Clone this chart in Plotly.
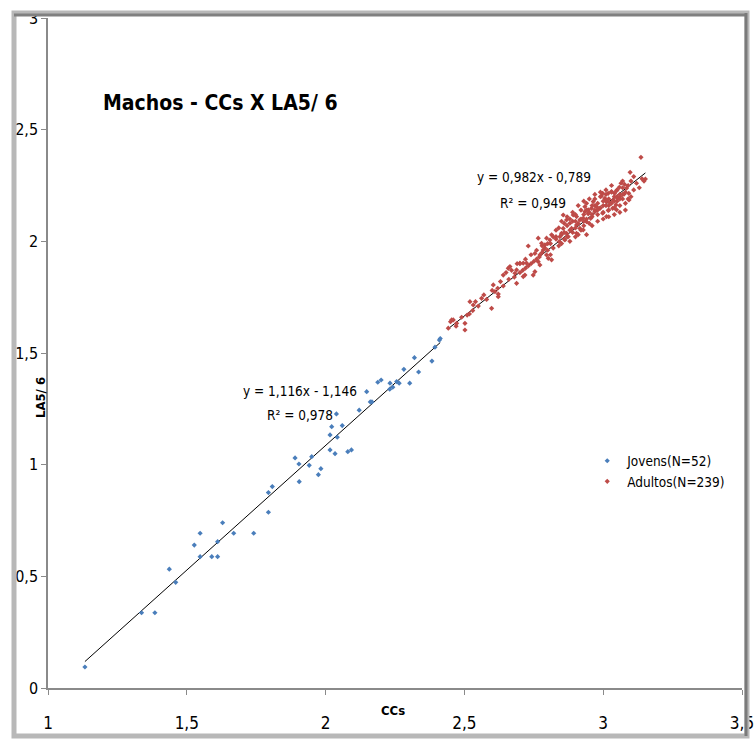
import plotly.graph_objects as go

# ---------------- data ----------------
jovens_x = [1.133, 1.337, 1.385, 1.437, 1.460, 1.527, 1.548, 1.548, 1.590, 1.611,
            1.611, 1.629, 1.669, 1.741, 1.794, 1.794, 1.808, 1.905, 1.890, 1.904,
            1.941, 1.950, 1.974, 1.983, 2.016, 2.016, 2.022, 2.034, 2.039, 2.042,
            2.060, 2.093, 2.121, 2.148, 2.161, 2.167, 2.188, 2.200, 2.231, 2.232,
            2.242, 2.256, 2.265, 2.282, 2.303, 2.320, 2.335, 2.383, 2.394, 2.410,
            2.413, 2.080]
jovens_y = [0.094, 0.337, 0.337, 0.532, 0.473, 0.640, 0.693, 0.588, 0.588, 0.588,
            0.655, 0.740, 0.693, 0.693, 0.787, 0.875, 0.902, 0.924, 1.030, 1.003,
            0.997, 1.036, 0.955, 0.982, 1.066, 1.133, 1.170, 1.049, 1.227, 1.123,
            1.175, 1.066, 1.244, 1.327, 1.281, 1.281, 1.369, 1.379, 1.338, 1.365,
            1.347, 1.372, 1.365, 1.427, 1.365, 1.479, 1.415, 1.464, 1.526, 1.558,
            1.565, 1.058]

adultos_x = [
    3.136, 3.097, 3.152, 3.147, 3.070, 3.064, 3.077, 3.058, 3.084, 3.092,
    3.075, 3.093, 3.048, 3.041, 3.030, 3.018, 2.998, 2.994, 3.006, 3.012,
    3.024, 3.036, 3.051, 3.060, 3.046, 3.048, 3.034, 3.018, 3.012, 2.998,
    2.988, 2.976, 2.964, 2.970, 2.958, 2.946, 2.934, 2.934, 2.946, 2.955,
    2.940, 2.928, 2.916, 2.904, 2.892, 2.904, 2.916, 2.928, 2.904, 2.886,
    2.880, 2.868, 2.856, 2.856, 2.868, 2.874, 2.862, 2.850, 2.844, 2.842,
    2.830, 2.814, 2.808, 2.796, 2.790, 2.778, 2.766, 2.730, 2.784, 2.796,
    2.814, 2.802, 2.772, 2.754, 2.766, 2.772, 2.754, 2.748, 2.724, 2.712,
    2.700, 2.688, 2.664, 2.658, 2.682, 2.718, 2.712, 2.688, 2.640, 2.604,
    2.610, 2.622, 2.622, 2.598, 2.562, 2.532, 2.520, 2.518, 2.502, 2.502,
    2.472, 2.454, 2.460, 2.442, 2.450,
    2.86, 2.87, 2.88, 2.89, 2.90, 2.90, 2.91, 2.91, 2.92, 2.92,
    2.93, 2.93, 2.94, 2.94, 2.95, 2.95, 2.96, 2.96, 2.97, 2.97,
    2.98, 2.98, 2.99, 2.99, 3.00, 3.00, 3.01, 3.01, 3.02, 3.02,
    3.03, 3.03, 3.04, 3.04, 3.05, 3.05, 3.06, 3.06, 3.07, 3.07,
    3.08, 3.08, 3.09, 3.10, 3.10, 3.11, 3.12, 3.13, 3.11, 3.14,
    2.80, 2.81, 2.82, 2.83, 2.84, 2.85, 2.85, 2.86, 2.87, 2.88,
    2.89, 2.83, 2.81, 2.79, 2.78, 2.77, 2.76, 2.75, 2.74, 2.73,
    2.72, 2.71, 2.70, 2.69, 2.68, 2.67, 2.66, 2.65, 2.64, 2.63,
    2.62, 2.60, 2.58, 2.57, 2.55, 2.54, 2.53, 2.51, 2.49, 2.47,
    2.90, 2.92, 2.94, 2.96, 2.98, 3.00, 3.02, 3.04, 3.06, 3.08,
    3.03, 3.01, 2.99, 2.97, 2.95, 2.93, 2.91, 2.89, 2.87, 2.85,
    2.88, 2.90, 2.94, 2.96, 2.98, 3.00, 3.02, 3.05, 3.07, 3.09,
    2.84, 2.82, 2.80, 2.78, 2.76, 2.74, 2.72, 2.70,
    2.86, 2.93, 2.97, 3.01, 3.04, 3.06]
adultos_y = [
    2.376, 2.309, 2.279, 2.270, 2.270, 2.260, 2.255, 2.242, 2.238, 2.215,
    2.211, 2.185, 2.227, 2.215, 2.223, 2.215, 2.215, 2.203, 2.193, 2.178,
    2.173, 2.185, 2.193, 2.200, 2.163, 2.141, 2.148, 2.138, 2.111, 2.126,
    2.148, 2.155, 2.178, 2.133, 2.148, 2.141, 2.155, 2.133, 2.123, 2.103,
    2.088, 2.103, 2.096, 2.111, 2.118, 2.073, 2.058, 2.051, 2.036, 2.058,
    2.081, 2.096, 2.118, 2.058, 2.036, 2.021, 2.006, 2.036, 2.021, 1.999,
    2.021, 2.029, 2.006, 2.014, 1.984, 1.991, 2.014, 1.979, 1.961, 1.939,
    1.917, 1.924, 1.939, 1.946, 1.909, 1.894, 1.864, 1.849, 1.902, 1.902,
    1.902, 1.872, 1.887, 1.879, 1.857, 1.849, 1.842, 1.812, 1.849, 1.805,
    1.775, 1.764, 1.752, 1.700, 1.745, 1.715, 1.730, 1.675, 1.633, 1.603,
    1.633, 1.648, 1.648, 1.611, 1.640,
    2.04, 2.07, 2.05, 2.09, 2.06, 2.12, 2.08, 2.03, 2.10, 2.14,
    2.07, 2.12, 2.10, 2.17, 2.13, 2.08, 2.11, 2.16, 2.14, 2.19,
    2.12, 2.17, 2.15, 2.20, 2.13, 2.18, 2.16, 2.21, 2.19, 2.14,
    2.17, 2.22, 2.20, 2.15, 2.18, 2.23, 2.21, 2.16, 2.19, 2.24,
    2.22, 2.17, 2.25, 2.20, 2.27, 2.23, 2.26, 2.24, 2.29, 2.28,
    1.96, 1.99, 1.97, 2.01, 1.98, 2.03, 1.99, 2.08, 2.02, 2.00,
    2.04, 2.05, 1.94, 1.97, 1.95, 1.93, 1.96, 1.91, 1.94, 1.89,
    1.92, 1.87, 1.86, 1.90, 1.84, 1.87, 1.83, 1.86, 1.80, 1.82,
    1.79, 1.78, 1.74, 1.76, 1.71, 1.73, 1.69, 1.67, 1.66, 1.62,
    2.02, 2.05, 2.03, 2.07, 2.09, 2.10, 2.11, 2.12, 2.13, 2.14,
    2.25, 2.23, 2.22, 2.21, 2.19, 2.18, 2.16, 2.13, 2.11, 2.09,
    2.10, 2.09, 2.14, 2.12, 2.14, 2.16, 2.16, 2.20, 2.21, 2.19,
    2.06, 2.02, 1.99, 1.98, 1.92, 1.90, 1.88, 1.90,
    2.01, 2.09, 2.16, 2.18, 2.18, 2.19]

jovens_fit = (1.116, -1.146, 0.978)
adultos_fit = (0.982, -0.789, 0.949)

x_ticks = [1, 1.5, 2, 2.5, 3, 3.5]
y_ticks = [0, 0.5, 1, 1.5, 2, 2.5, 3]

# ---------------- figure ----------------
FONT = "DejaVu Sans Condensed, Liberation Sans Narrow, Arial Narrow, Liberation Sans, sans-serif"
BLUE = "#4A7EBB"
RED = "#BE4B48"

fig = go.Figure()


def trend(xs, fit):
    a, b, _ = fit
    x0, x1 = min(xs), max(xs)
    return [x0, x1], [a * x0 + b, a * x1 + b]


for xs, fit in ((jovens_x, jovens_fit), (adultos_x, adultos_fit)):
    tx, ty = trend(xs, fit)
    fig.add_trace(go.Scatter(x=tx, y=ty, mode="lines", line=dict(color="black", width=1),
                             showlegend=False, hoverinfo="skip"))

fig.add_trace(go.Scatter(x=jovens_x, y=jovens_y, mode="markers", name="Jovens(N=52)",
                         marker=dict(symbol="diamond", size=4, color=BLUE)))
fig.add_trace(go.Scatter(x=adultos_x, y=adultos_y, mode="markers", name="Adultos(N=239)",
                         marker=dict(symbol="diamond", size=4, color=RED)))


def fmt(v):
    return f"{abs(v):.3f}".replace(".", ",")


annots = [
    dict(x=1.62, y=2.62, text="<b>Machos - CCs X LA5/ 6</b>", font=dict(size=21)),
    dict(x=1.908, y=1.330, text=f"y = {fmt(jovens_fit[0])}x - {fmt(jovens_fit[1])}", font=dict(size=13.5)),
    dict(x=1.908, y=1.223, text=f"R² = {fmt(jovens_fit[2])}", font=dict(size=13.5)),
    dict(x=2.751, y=2.288, text=f"y = {fmt(adultos_fit[0])}x - {fmt(adultos_fit[1])}", font=dict(size=13.5)),
    dict(x=2.747, y=2.172, text=f"R² = {fmt(adultos_fit[2])}", font=dict(size=13.5)),
]
for a in annots:
    fig.add_annotation(xref="x", yref="y", showarrow=False, xanchor="center", yanchor="middle", **a)

# axis titles placed like the original
fig.add_annotation(xref="paper", yref="paper", x=-0.0115, y=0.4328, text="<b>LA5/ 6</b>",
                   textangle=-90, showarrow=False, font=dict(size=13),
                   xanchor="center", yanchor="middle")
fig.add_annotation(xref="paper", yref="paper", x=0.497, y=-0.0343, text="<b>CCs</b>",
                   showarrow=False, font=dict(size=13), xanchor="center", yanchor="middle")


def px2paper_x(px):
    return (px - 48) / 694


def px2paper_y(py):
    return (688 - py) / 670


fig.add_shape(type="rect", xref="paper", yref="paper",
              x0=px2paper_x(14), x1=px2paper_x(747), y0=px2paper_y(736), y1=px2paper_y(13),
              line=dict(color="#b8b8b8", width=5), layer="above")
fig.add_shape(type="line", xref="paper", yref="paper",
              x0=px2paper_x(14), x1=px2paper_x(747), y0=px2paper_y(15), y1=px2paper_y(15),
              line=dict(color="#808080", width=3), layer="above")
fig.add_shape(type="line", xref="paper", yref="paper",
              x0=px2paper_x(746), x1=px2paper_x(746), y0=px2paper_y(736), y1=px2paper_y(13),
              line=dict(color="#7a7a7a", width=3), layer="above")

fig.update_layout(
    width=755, height=740,
    margin=dict(l=48, r=13, t=18, b=52),
    paper_bgcolor="white", plot_bgcolor="white",
    separators=",.",
    font=dict(family=FONT, color="black", size=16),
    legend=dict(x=0.777, y=0.362, xanchor="left", yanchor="top",
                bgcolor="rgba(0,0,0,0)", font=dict(size=13.5), itemwidth=30,
                tracegroupgap=0),
    showlegend=True,
)
fig.update_xaxes(range=[1, 3.5], tickvals=x_ticks, showgrid=False, zeroline=False,
                 showline=True, linecolor="#8a8a8a", linewidth=2, ticks="outside",
                 ticklen=5, tickcolor="#8a8a8a", ticklabelstandoff=14,
                 tickfont=dict(size=17), automargin=False)
fig.update_yaxes(range=[0, 3], tickvals=y_ticks, showgrid=False, zeroline=False,
                 showline=True, linecolor="#8a8a8a", linewidth=1.5, ticks="outside",
                 ticklen=5, tickcolor="#8a8a8a", tickfont=dict(size=16), automargin=False)

fig.write_html("out.html")
